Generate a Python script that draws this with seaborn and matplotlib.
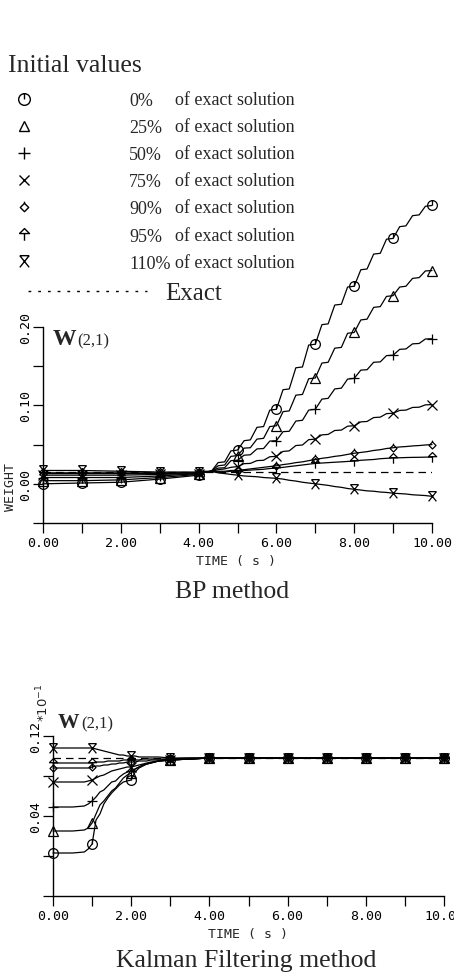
import numpy as np
import matplotlib
matplotlib.use("Agg")
import matplotlib.pyplot as plt
import seaborn as sns
from matplotlib.path import Path
from matplotlib.lines import Line2D
from matplotlib.font_manager import FontProperties

# ---------------- data ----------------
SERIES_LABELS = ["0%", "25%", "50%", "75%", "90%", "95%", "110%"]
SOLUTION_TEXT = "of exact solution"
EXACT_LABEL = "Exact"

EXACT_BP = 0.0155
TIME_BP = [0, 1, 2, 3, 4.0, 4.17, 4.33, 4.5, 4.67, 4.83, 5.0, 5.17, 5.33, 5.5, 5.67, 5.83,
           6.0, 6.17, 6.33, 6.5, 6.67, 6.83, 7.0, 7.17, 7.33, 7.5, 7.67, 7.83, 8.0, 8.17,
           8.33, 8.5, 8.67, 8.83, 9.0, 9.17, 9.33, 9.5, 9.67, 9.83, 10.0]
BP_0 = [0.000, 0.001, 0.002, 0.006, 0.011, 0.015, 0.016, 0.027, 0.028, 0.042, 0.043,
        0.055, 0.056, 0.072, 0.073, 0.094, 0.095, 0.120, 0.121, 0.148, 0.149, 0.177, 0.178,
        0.203, 0.204, 0.228, 0.229, 0.251, 0.252, 0.273, 0.274, 0.293, 0.294, 0.312, 0.313,
        0.328, 0.329, 0.342, 0.343, 0.354, 0.355]
BP_25 = [0.004, 0.004, 0.005, 0.008, 0.012, 0.015, 0.016, 0.023, 0.024, 0.035, 0.036,
         0.0455, 0.046, 0.057, 0.058, 0.073, 0.074, 0.092, 0.093, 0.113, 0.114, 0.134, 0.135,
         0.154, 0.155, 0.173, 0.174, 0.192, 0.193, 0.209, 0.210, 0.225, 0.226, 0.239, 0.240,
         0.251, 0.252, 0.262, 0.263, 0.2715, 0.272]
BP_50 = [0.008, 0.008, 0.008, 0.010, 0.013, 0.015, 0.016, 0.020, 0.0205, 0.0295, 0.030,
         0.0365, 0.037, 0.0445, 0.045, 0.0545, 0.055, 0.0665, 0.067, 0.080, 0.081, 0.094, 0.095,
         0.108, 0.109, 0.121, 0.122, 0.1335, 0.1345, 0.145, 0.1455, 0.155, 0.1555, 0.1635, 0.164,
         0.1715, 0.172, 0.1785, 0.179, 0.1847, 0.185]
BP_75 = [0.011, 0.011, 0.011, 0.012, 0.013, 0.015, 0.016, 0.018, 0.019, 0.021, 0.022,
         0.0257, 0.026, 0.0296, 0.030, 0.0345, 0.035, 0.0413, 0.042, 0.0488, 0.0495, 0.0563, 0.057,
         0.0624, 0.063, 0.068, 0.0685, 0.0735, 0.074, 0.079, 0.0795, 0.0845, 0.085, 0.0895, 0.090,
         0.0936, 0.094, 0.0974, 0.0977, 0.1007, 0.101]
BP_90 = [0.013, 0.013, 0.013, 0.013, 0.014, 0.015, 0.016, 0.016, 0.016, 0.017, 0.017,
         0.018, 0.019, 0.020, 0.021, 0.022, 0.023, 0.0245, 0.0255, 0.027, 0.028, 0.0295, 0.031,
         0.0325, 0.0335, 0.035, 0.036, 0.0375, 0.039, 0.040, 0.041, 0.0425, 0.0435, 0.045, 0.046,
         0.047, 0.0475, 0.0483, 0.0488, 0.0495, 0.050]
BP_95 = [0.014, 0.014, 0.014, 0.014, 0.014, 0.015, 0.016, 0.015, 0.015, 0.016, 0.016,
         0.017, 0.0175, 0.018, 0.0185, 0.0195, 0.020, 0.021, 0.022, 0.023, 0.024, 0.025, 0.026,
         0.0265, 0.027, 0.0275, 0.028, 0.0285, 0.029, 0.030, 0.0305, 0.031, 0.032, 0.0325, 0.033,
         0.0332, 0.0335, 0.0337, 0.0338, 0.034, 0.034]
BP_110 = [0.017, 0.017, 0.016, 0.015, 0.015, 0.016, 0.016, 0.014, 0.013, 0.012, 0.011,
          0.010, 0.0095, 0.009, 0.008, 0.0075, 0.007, 0.006, 0.0045, 0.0035, 0.002, 0.001, 0.000,
          -0.001, -0.002, -0.0035, -0.0045, -0.006, -0.007, -0.008, -0.009, -0.0095, -0.0105, -0.011, -0.012,
          -0.0125, -0.013, -0.014, -0.0145, -0.015, -0.016]

EXACT_KF = 0.098
TIME_KF = [0, 0.5, 0.8, 0.9, 1.0, 1.1, 1.2, 1.3, 1.4, 1.5, 1.6, 1.7, 1.8, 1.9, 2.0,
           2.1, 2.2, 2.3, 2.4, 2.5, 2.7, 3.0, 3.5, 4, 5, 6, 7, 8, 9, 10]
KF_0 = [0.003, 0.003, 0.004, 0.007, 0.012, 0.036, 0.042, 0.052, 0.058, 0.063, 0.067, 0.071,
        0.074, 0.075, 0.076, 0.084, 0.088, 0.090, 0.092, 0.093, 0.095, 0.096, 0.097,
        0.098, 0.098, 0.098, 0.098, 0.098, 0.098, 0.098]
KF_25 = [0.025, 0.025, 0.026, 0.028, 0.033, 0.042, 0.051, 0.055, 0.060, 0.065, 0.068, 0.073,
         0.078, 0.081, 0.083, 0.087, 0.089, 0.091, 0.092, 0.093, 0.095, 0.096, 0.097,
         0.098, 0.098, 0.098, 0.098, 0.098, 0.098, 0.098]
KF_50 = [0.049, 0.049, 0.050, 0.052, 0.055, 0.059, 0.064, 0.066, 0.070, 0.074, 0.075, 0.079,
         0.082, 0.084, 0.085, 0.087, 0.089, 0.091, 0.092, 0.093, 0.095, 0.096, 0.097,
         0.098, 0.098, 0.098, 0.098, 0.098, 0.098, 0.098]
KF_75 = [0.074, 0.074, 0.074, 0.075, 0.076, 0.078, 0.080, 0.081, 0.083, 0.085, 0.086, 0.087,
         0.088, 0.089, 0.089, 0.090, 0.091, 0.092, 0.093, 0.094, 0.095, 0.096, 0.097,
         0.098, 0.098, 0.098, 0.098, 0.098, 0.098, 0.098]
KF_90 = [0.088, 0.088, 0.088, 0.088, 0.089, 0.090, 0.090, 0.091, 0.091, 0.092, 0.092, 0.093,
         0.093, 0.094, 0.094, 0.094, 0.095, 0.095, 0.095, 0.096, 0.096, 0.097, 0.097,
         0.098, 0.098, 0.098, 0.098, 0.098, 0.098, 0.098]
KF_95 = [0.093, 0.093, 0.093, 0.093, 0.093, 0.094, 0.094, 0.094, 0.095, 0.095, 0.095, 0.095,
         0.096, 0.096, 0.096, 0.096, 0.096, 0.097, 0.097, 0.097, 0.097, 0.097, 0.098,
         0.098, 0.098, 0.098, 0.098, 0.098, 0.098, 0.098]
KF_110 = [0.108, 0.108, 0.108, 0.108, 0.108, 0.107, 0.106, 0.105, 0.104, 0.103, 0.102, 0.101,
          0.101, 0.100, 0.100, 0.100, 0.099, 0.099, 0.099, 0.099, 0.099, 0.098, 0.098,
          0.098, 0.098, 0.098, 0.098, 0.098, 0.098, 0.098]

X_TICKS = [0, 1, 2, 3, 4, 5, 6, 7, 8, 9, 10]
X_TICK_LABELS = ["0.00", "", "2.00", "", "4.00", "", "6.00", "", "8.00", "", "10.00"]
BP_Y_TICKS = [-0.05, 0.00, 0.05, 0.10, 0.15, 0.20]
BP_Y_TICK_LABELS = ["", "0.00", "", "0.10", "", "0.20"]
KF_Y_TICKS = [-0.04, 0.00, 0.04, 0.08, 0.12]
KF_Y_TICK_LABELS = ["", "", "0.04", "", "0.12"]

# ---------------- style ----------------
sns.set_style("ticks")
plt.rcParams["font.family"] = ["DejaVu Sans Mono", "DejaVu Sans"]
plt.rcParams["mathtext.fontset"] = "dejavusans"
SERIF = "Liberation Serif"

W, H = 454, 978
def fx(px):
    return px / W
def fy(py):
    return 1 - py / H

def poly_path(*polylines):
    verts, codes = [], []
    for pl in polylines:
        for i, p in enumerate(pl):
            verts.append(p)
            codes.append(Path.MOVETO if i == 0 else Path.LINETO)
    return Path(verts, codes)

m_circle = Path.make_compound_path(Path.unit_circle(), poly_path([(0, 0), (0, 1)]))
m_diamond = poly_path([(0, 0.72), (0.72, 0), (0, -0.72), (-0.72, 0), (0, 0.72)], [(0, 0.72), (0, 1.0)])
m_arrow = poly_path([(-0.8, 0.15), (0, 0.95), (0.8, 0.15), (-0.8, 0.15)], [(0, 0.15), (0, -1.0)])
m_hour = poly_path([(-0.8, 1), (0.8, 1)], [(-0.8, 1), (0.8, -1)], [(0.8, 1), (-0.8, -1)])
MARKERS = [m_circle, "^", "+", "x", m_diamond, m_arrow, m_hour]
MSIZES = [7, 6.5, 7.5, 6.5, 7, 7.5, 7]

fig = plt.figure(figsize=(W / 100, H / 100), dpi=100)
ax1 = fig.add_axes([fx(43), fy(524), (432 - 43) / W, (524 - 328) / H])
ax2 = fig.add_axes([fx(53), fy(897), (444 - 53) / W, (897 - 737) / H])

def draw_panel(ax, t, series, exact):
    every = [i for i, v in enumerate(t) if abs(v - round(v)) < 1e-9]
    ax.axhline(exact, color="black", lw=0.9, dashes=(6, 4), zorder=1)
    for vals, mk, ms in zip(series, MARKERS, MSIZES):
        sns.lineplot(x=t, y=vals, ax=ax, color="black", lw=0.9, marker=mk,
                     markevery=every, markersize=ms, mfc="none", mec="black", mew=0.9,
                     clip_on=False, estimator=None, sort=False, errorbar=None, zorder=3)

draw_panel(ax1, TIME_BP, [BP_0, BP_25, BP_50, BP_75, BP_90, BP_95, BP_110], EXACT_BP)
draw_panel(ax2, TIME_KF, [KF_0, KF_25, KF_50, KF_75, KF_90, KF_95, KF_110], EXACT_KF)

for ax, yt, ytl in [(ax1, BP_Y_TICKS, BP_Y_TICK_LABELS), (ax2, KF_Y_TICKS, KF_Y_TICK_LABELS)]:
    ax.set_xlim(0, 10)
    ax.set_ylim(yt[0], yt[-1])
    ax.set_xticks(X_TICKS)
    ax.set_xticklabels(X_TICK_LABELS)
    ax.set_yticks(yt)
    ax.set_yticklabels(ytl, rotation=90, va="center")
    sns.despine(ax=ax)
    for s in ["left", "bottom"]:
        ax.spines[s].set_linewidth(1.0)
        ax.spines[s].set_color("black")
    ax.tick_params(direction="out", length=7, width=0.9, labelsize=9.5, colors="black")
    ax.tick_params(axis="x", pad=2.5)
    ax.tick_params(axis="y", pad=1)
    ax.set_facecolor("none")

ax1.set_xlabel("TIME ( s )", fontsize=9.5)
ax1.xaxis.set_label_coords(0.496, -0.158)
ax1.set_ylabel("WEIGHT", fontsize=9.5)
ax1.yaxis.set_label_coords(-0.068, 0.19)
ax2.set_xlabel("TIME ( s )", fontsize=9.5)
ax2.xaxis.set_label_coords(0.499, -0.194)
ax2.set_ylabel("")

fig.text(fx(43), fy(722), r"$*10^{-1}$", rotation=90, ha="center", va="bottom", fontsize=9.5)

# panel annotations
fig.text(fx(53), fy(345), "W", family=SERIF, weight="bold", fontsize=17, va="baseline")
fig.text(fx(77), fy(345), "(2,1)", family=SERIF, fontsize=12, va="baseline")
fig.text(fx(58), fy(728), "W", family=SERIF, weight="bold", fontsize=15.5, va="baseline")
fig.text(fx(81), fy(728), "(2,1)", family=SERIF, fontsize=12, va="baseline")

fig.text(fx(232), fy(598), "BP method", family=SERIF, fontsize=18.5, ha="center", va="baseline")
fig.text(fx(246), fy(967), "Kalman Filtering method", family=SERIF, fontsize=18.5,
         ha="center", va="baseline")
fig.text(fx(8), fy(72), "Initial values", family=SERIF, fontsize=18.5, va="baseline")

# legend
serif13 = FontProperties(family=SERIF, size=13)
handles = [Line2D([], [], ls="none", marker=m, ms=ms * 1.2, mfc="none", mec="black", mew=1.0)
           for m, ms in zip(MARKERS, MSIZES)]
fig.legend(handles, SERIES_LABELS, loc="upper left", bbox_to_anchor=(fx(15), fy(93)),
           bbox_transform=fig.transFigure, frameon=False, borderpad=0, borderaxespad=0,
           handlelength=1.0, handletextpad=5.32, labelspacing=0.56, prop=serif13)
fig.legend([Line2D([], [], ls="none")] * len(SERIES_LABELS), [SOLUTION_TEXT] * len(SERIES_LABELS),
           loc="upper left", bbox_to_anchor=(fx(175), fy(92)), bbox_transform=fig.transFigure,
           frameon=False, borderpad=0, borderaxespad=0, handlelength=0, handletextpad=0,
           labelspacing=0.56, prop=serif13)
fig.legend([Line2D([], [], color="black", lw=1.0, dashes=(2, 5))], [EXACT_LABEL],
           loc="upper left", bbox_to_anchor=(fx(28), fy(283)), bbox_transform=fig.transFigure,
           frameon=False, borderpad=0, borderaxespad=0, handlelength=4.76, handletextpad=0.72,
           prop=FontProperties(family=SERIF, size=18))

fig.savefig("out.png", dpi=100, facecolor="white")
